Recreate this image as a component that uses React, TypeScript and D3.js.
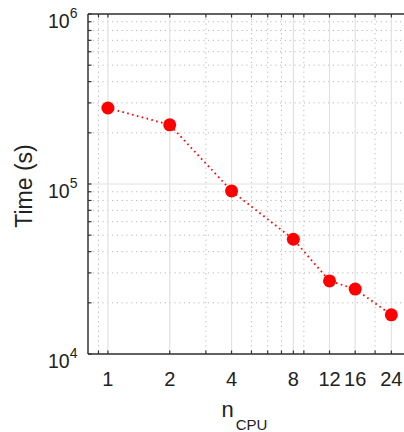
import * as d3 from 'd3';
import React, { useEffect, useRef } from 'react';

// measured run times (s) vs number of CPUs
const nCPU = [1, 2, 4, 8, 12, 16, 24];
const timeSec = [280000, 223000, 91000, 47300, 26900, 24100, 17000];
const xTickLabels = ['1', '2', '4', '8', '12', '16', '24'];
const xMinorTicks = [0.9, 3, 5, 6, 7, 9, 20];
const yExponents = [4, 5, 6];

function App() {
    const ref = useRef(null);

    useEffect(() => {
        const svg = d3.select(ref.current);
        svg.selectAll('*').remove();

        const left = 88, top = 14, bottom = 354, right = 417;
        const font = 'Liberation Sans, Arial, sans-serif';

        const x = d3.scaleLog().domain([0.8, 32]).range([left, right]);
        const y = d3.scaleLog().domain([1e4, 1e6]).range([bottom, top]);

        const yMajor = yExponents.map(e => Math.pow(10, e));
        const yMinor = [];
        yExponents.slice(0, -1).forEach(e => {
            for (let k = 2; k <= 9; k++) yMinor.push(k * Math.pow(10, e));
        });

        const grid = svg.append('g');

        // dotted minor grid
        grid.selectAll('.ymin')
            .data(yMinor)
            .enter().append('line')
            .attr('x1', left).attr('x2', 404)
            .attr('y1', d => y(d)).attr('y2', d => y(d))
            .attr('stroke', '#b8b8b8')
            .attr('stroke-width', 1)
            .attr('stroke-dasharray', '1.2,3.6');

        grid.selectAll('.xmin')
            .data(xMinorTicks)
            .enter().append('line')
            .attr('x1', d => x(d)).attr('x2', d => x(d))
            .attr('y1', top).attr('y2', bottom)
            .attr('stroke', '#b8b8b8')
            .attr('stroke-width', 1)
            .attr('stroke-dasharray', '1.2,3.6');

        // solid major grid
        grid.selectAll('.ymaj')
            .data(yMajor)
            .enter().append('line')
            .attr('x1', left).attr('x2', 404)
            .attr('y1', d => y(d)).attr('y2', d => y(d))
            .attr('stroke', '#e2e2e2')
            .attr('stroke-width', 1.2);

        grid.selectAll('.xmaj')
            .data(nCPU)
            .enter().append('line')
            .attr('x1', d => x(d)).attr('x2', d => x(d))
            .attr('y1', top).attr('y2', bottom)
            .attr('stroke', '#e2e2e2')
            .attr('stroke-width', 1.2);

        // spines
        const axisColor = '#333';
        svg.append('line').attr('x1', left).attr('x2', 404).attr('y1', top).attr('y2', top)
            .attr('stroke', axisColor).attr('stroke-width', 1.5);
        svg.append('line').attr('x1', left).attr('x2', 404).attr('y1', bottom).attr('y2', bottom)
            .attr('stroke', axisColor).attr('stroke-width', 1.5);
        svg.append('line').attr('x1', left).attr('x2', left).attr('y1', top).attr('y2', bottom)
            .attr('stroke', axisColor).attr('stroke-width', 1.5);

        // inward ticks
        const allX = nCPU.concat(xMinorTicks);
        [bottom, top].forEach(yy => {
            svg.selectAll(null)
                .data(allX)
                .enter().append('line')
                .attr('x1', d => x(d)).attr('x2', d => x(d))
                .attr('y1', yy).attr('y2', yy === bottom ? yy - 3.5 : yy + 3.5)
                .attr('stroke', axisColor).attr('stroke-width', 1.2);
        });
        svg.selectAll(null)
            .data(yMajor.concat(yMinor))
            .enter().append('line')
            .attr('x1', left).attr('x2', left + 3.5)
            .attr('y1', d => y(d)).attr('y2', d => y(d))
            .attr('stroke', axisColor).attr('stroke-width', 1.2);

        // x tick labels
        svg.selectAll(null)
            .data(nCPU)
            .enter().append('text')
            .attr('x', d => x(d))
            .attr('y', bottom + 32)
            .attr('text-anchor', 'middle')
            .attr('font-family', font)
            .attr('font-size', 20)
            .attr('fill', '#222')
            .text((d, i) => xTickLabels[i]);

        // y tick labels 10^n
        const yl = svg.selectAll(null)
            .data(yExponents)
            .enter().append('text')
            .attr('x', 77.5)
            .attr('y', d => y(Math.pow(10, d)) + 13.8)
            .attr('text-anchor', 'end')
            .attr('font-family', font)
            .attr('font-size', 19.5)
            .attr('fill', '#222');
        yl.append('tspan').text('10');
        yl.append('tspan').attr('dy', -9.5).attr('font-size', 14).text(d => d);

        // axis titles
        svg.append('text')
            .attr('transform', `translate(32,${(top + bottom) / 2 + 2}) rotate(-90)`)
            .attr('text-anchor', 'middle')
            .attr('font-family', font)
            .attr('font-size', 23)
            .attr('fill', '#222')
            .text('Time (s)');

        const xl = svg.append('text')
            .attr('x', 221.5)
            .attr('y', 417)
            .attr('font-family', font)
            .attr('font-size', 22)
            .attr('fill', '#222');
        xl.append('tspan').text('n');
        xl.append('tspan').attr('dx', 2).attr('dy', 13).attr('font-size', 15).text('CPU');

        // data
        const pts = nCPU.map((n, i) => [n, timeSec[i]]);
        const line = d3.line().x(d => x(d[0])).y(d => y(d[1]));

        svg.append('path')
            .datum(pts)
            .attr('d', line)
            .attr('fill', 'none')
            .attr('stroke', '#ff0000')
            .attr('stroke-width', 1.8)
            .attr('stroke-dasharray', '1.6,3.4');

        svg.selectAll('.pt')
            .data(pts)
            .enter().append('circle')
            .attr('cx', d => x(d[0]))
            .attr('cy', d => y(d[1]))
            .attr('r', 6.5)
            .attr('fill', '#ff0000');
    }, []);

    return <svg ref={ref} width={404} height={432}
        style={{ position: 'absolute', left: 0, top: 0, background: '#fff' }}></svg>;
}

export default App;
